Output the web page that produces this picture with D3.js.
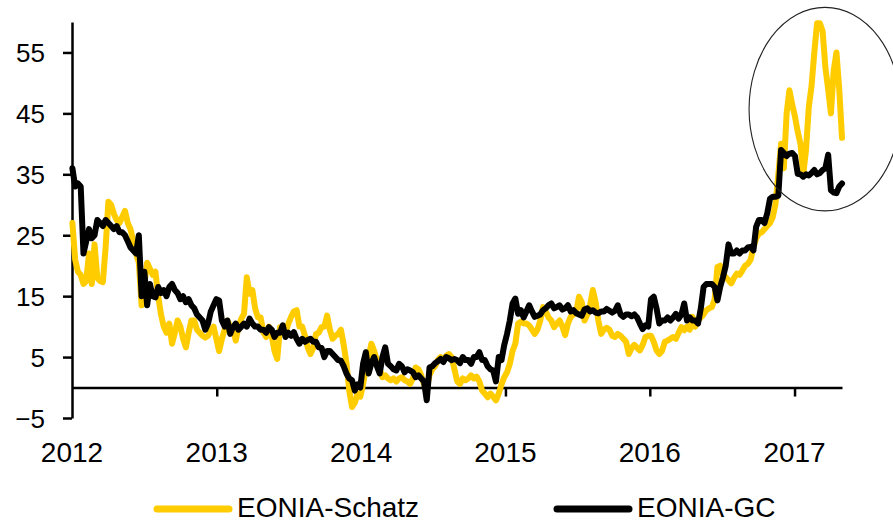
<!DOCTYPE html>
<html>
<head>
<meta charset="utf-8">
<script src="https://cdn.jsdelivr.net/npm/d3@7"></script>
<style>
  html, body { margin: 0; padding: 0; background: #fff; }
  svg { display: block; font-family: "Liberation Sans", Arial, sans-serif; }
</style>
</head>
<body>
<svg id="chart" width="893" height="523"></svg>
<script>
// ---- data (weekly observations, Mondays from 2012-01-02) ----
const startDate = new Date(2012, 0, 2);
const endDate = new Date(2017, 4, 2);
const dates = d3.timeMonday.range(startDate, endDate);

const seriesNames = ["EONIA-Schatz", "EONIA-GC"];
const seriesColors = ["#FFCC00", "#000000"];

const schatz = [
  // 2012
  27, 21, 19, 18.5, 17, 17.5, 22, 17, 23.5, 18,
  17.5, 17.3, 23, 30.5, 30, 28.5, 27.5, 27, 28, 29,
  27, 26, 24, 22, 20.5, 13.5, 17, 20.5, 19.5, 18.5,
  19, 15, 12, 10, 9, 10.5, 7.2, 9, 11, 10,
  8, 6.6, 9, 11, 11, 9.5, 9, 8.5, 8.2, 8.5,
  9.4, 10, 8,
  // 2013
  6, 8, 9.5, 11, 10, 9.9, 7.7, 10, 11.3, 12.1,
  18.1, 15.4, 16, 13, 11.5, 11.5, 9, 8.3, 10, 8.5,
  6, 4.7, 9.9, 9.5, 9, 10.5, 11.6, 12.5, 12.7, 10,
  10, 8.5, 6.6, 5.5, 6.5, 8.8, 9, 9.9, 10, 11.8,
  9.5, 8, 8.5, 8.8, 9.5, 7, 4, -0.5, -3.2, -2.5,
  -1, -1.5,
  // 2014
  0.5, 3.3, 5, 7.2, 6, 4.5, 3, 1.7, 2, 1.5,
  1.2, 1.5, 1, 1.5, 1.7, 1.2, 1, 0.6, 1.5, 3.3,
  3, 2, 0.5, 0, 2, 3, 3.5, 4.5, 5, 4.5,
  5.2, 5.5, 5, 3, 1, 0.6, 1.5, 1.2, 1.5, 2,
  1.5, 1.8, 1, -0.5, -1, -1.6, -1, -1.5, -2.1, -1,
  0.5, 1.7,
  // 2015
  2.5, 3.9, 6, 7.2, 10.5, 10.8, 10.5, 10.5, 10.2, 9.5,
  8.8, 9.5, 11, 13.2, 12.5, 11.5, 11, 9.9, 10.5, 11,
  10, 8.6, 10.5, 11.6, 12, 12.5, 14.9, 14, 11, 12,
  13.5, 16, 14, 11, 8.8, 9.5, 9.8, 9.5, 8.5, 8.3,
  8.8, 8.5, 8, 7.5, 5.5, 6.5, 7, 6.5, 6.1, 7,
  8.3, 8.5,
  // 2016
  8.5, 7.5, 6.1, 5.5, 6, 7.5, 7.7, 8, 8.3, 8,
  9, 9.9, 9.4, 10, 9.5, 11.6, 10, 11, 11.5, 12,
  12.7, 13, 13.2, 14.5, 19.8, 20, 18.5, 18.1, 17.6, 17.1,
  18, 18.7, 18.5, 19.2, 20, 20.3, 21, 23, 24.5, 25.3,
  25.5, 26, 26.5, 27, 28, 30.2, 35, 40, 36, 45,
  48.8, 46.5,
  // 2017
  44.5, 42, 40, 35, 39, 46, 49.5, 55, 59.8, 59.8,
  58.5, 52.5, 49, 45, 52, 55, 49, 41
];

const gc = [
  // 2012
  36, 33, 33.5, 33, 22, 24, 26, 24.5, 25, 27.5,
  27, 26.5, 27.5, 27, 26.5, 26, 26.5, 25.5, 25.5, 25,
  24, 23, 22.5, 22, 25, 15, 19, 13.5, 17, 15,
  14.8, 16.5, 15.5, 16, 15, 16.5, 17, 16, 15.5, 14.5,
  15, 14, 14.5, 13.5, 13, 12, 11.5, 11, 9.5, 10.5,
  12.5, 13.5, 14.5,
  // 2013
  14.3, 11, 10, 11, 8.8, 9.9, 10.5, 9.5, 10, 10.5,
  10, 11.3, 10.5, 10, 10, 9.5, 9.5, 9, 9.9, 9.5,
  8.3, 9, 9, 10.2, 8.3, 9, 8.5, 9.1, 8, 7.2,
  8, 7.5, 7.8, 8, 7.5, 7.5, 6.6, 6.5, 5, 6,
  6, 5.5, 5, 4.5, 4.4, 3.5, 2.3, 1.5, 1.2, -0.5,
  0.5, 0,
  // 2014
  3.9, 5.8, 2.3, 4, 5, 3.5, 2.3, 5, 6.6, 3.9,
  3.5, 3, 2.8, 3.9, 3.5, 2.5, 3, 2.8, 2.5, 1.7,
  2, 1.5, 1, -2.1, 3.3, 3.5, 4, 4.3, 4.7, 4.2,
  5, 4.8, 4.5, 4.7, 4.5, 4, 5, 4.5, 4.5, 3.9,
  5, 5, 5.8, 4.5, 4.5, 3.5, 3, 2.8, 1, 5,
  4.5, 7,
  // 2015
  8.8, 11, 13.8, 14.6, 12.1, 12.7, 11.5, 12.5, 13.5, 12.5,
  11.6, 11.8, 12, 12.7, 13, 13.5, 13.8, 13, 13.2, 13.5,
  12.8, 13, 13.5, 12.5, 12.7, 12.2, 12, 11.8, 12.8, 13,
  12.5, 12.7, 12.3, 12.2, 12.5, 12.5, 12.9, 12.6, 12.3, 12.6,
  13.5, 12, 11.6, 12, 12, 11.7, 12, 11.5, 10.5, 9.6,
  10.2, 10,
  // 2016
  14.5, 14.9, 13, 10.5, 11, 11, 11.5, 11, 11.5, 12.1,
  11.3, 12, 13.8, 11, 11.5, 11, 11, 10.5, 13, 16.5,
  17, 17, 17, 16.5, 14.3, 16.5, 18.1, 20, 23.5, 22,
  22, 22.5, 22, 22.5, 22.5, 23, 23.1, 22.5, 26.4, 27.5,
  27.5, 27, 28.6, 31, 31.3, 31.3, 31.5, 39, 38.5, 38,
  38.4, 38.5,
  // 2017
  38, 35.1, 35, 34.6, 35, 34.8, 35.2, 35.7, 35, 35.2,
  35.7, 36, 38.2, 32.4, 32, 31.9, 33, 33.5
];

const yTicks = [-5, 5, 15, 25, 35, 45, 55];
const yearTicks = [2012, 2013, 2014, 2015, 2016, 2017];

// ---- layout ----
const svg = d3.select("#chart");
const x = d3.scaleTime()
  .domain([new Date(2012, 0, 1), new Date(2017, 4, 1)])
  .range([72, 842]);
const y = d3.scaleLinear().domain([-5, 60]).range([418, 22]);

// y axis
const yAxis = svg.append("g")
  .attr("transform", `translate(${x.range()[0]},0)`)
  .call(d3.axisLeft(y).tickValues(yTicks).tickSize(9).tickSizeOuter(0).tickFormat(d3.format("d")));
yAxis.select(".domain").attr("stroke", "#000").attr("stroke-width", 2.5);
yAxis.selectAll(".tick line").attr("stroke", "#000").attr("stroke-width", 2.5);
yAxis.selectAll(".tick text")
  .attr("font-size", 26).attr("font-family", "Liberation Sans, Arial, sans-serif")
  .attr("fill", "#000").attr("x", -27).attr("dy", "0.35em");

// zero line with year ticks
const xAxis = svg.append("g")
  .attr("transform", `translate(0,${y(0)})`)
  .call(d3.axisBottom(x)
    .tickValues(yearTicks.slice(1).map(yr => new Date(yr, 0, 1)))
    .tickSize(9).tickSizeOuter(0).tickFormat(""));
xAxis.select(".domain").attr("stroke", "#000").attr("stroke-width", 2.5);
xAxis.selectAll(".tick line").attr("stroke", "#000").attr("stroke-width", 2.5);

// year labels below plot
svg.append("g").selectAll("text")
  .data(yearTicks).join("text")
  .attr("x", d => x(new Date(d, 0, 1)))
  .attr("y", 462)
  .attr("text-anchor", "middle")
  .attr("font-size", 28)
  .attr("fill", "#000")
  .text(d => d);

// series
const seriesData = [schatz, gc];
const line = d3.line()
  .x((d, i) => x(dates[i]))
  .y(d => y(d));

seriesData.forEach((vals, k) => {
  svg.append("path")
    .datum(vals)
    .attr("d", line)
    .attr("fill", "none")
    .attr("stroke", seriesColors[k])
    .attr("stroke-width", 6)
    .attr("stroke-linejoin", "round")
    .attr("stroke-linecap", "round");
});

// highlight ellipse (annotation around 2017 values)
const eCenter = new Date(2017, 2, 19);
const eCx = x(eCenter);
const eCy = y(45.7);
const eRx = x(d3.timeDay.offset(eCenter, 192)) - eCx;
const eRy = y(45.7 - 16.7) - eCy;
svg.append("ellipse")
  .attr("cx", eCx).attr("cy", eCy)
  .attr("rx", eRx).attr("ry", eRy)
  .attr("fill", "none").attr("stroke", "#222").attr("stroke-width", 1.1);

// legend
const legendX = [157, 557];
const legend = svg.append("g");
seriesNames.forEach((name, k) => {
  legend.append("line")
    .attr("x1", legendX[k]).attr("x2", legendX[k] + 72)
    .attr("y1", 509).attr("y2", 509)
    .attr("stroke", seriesColors[k]).attr("stroke-width", 7)
    .attr("stroke-linecap", "round");
  legend.append("text")
    .attr("x", legendX[k] + 80).attr("y", 517)
    .attr("font-size", 28).attr("fill", "#000")
    .text(name);
});
</script>
</body>
</html>
